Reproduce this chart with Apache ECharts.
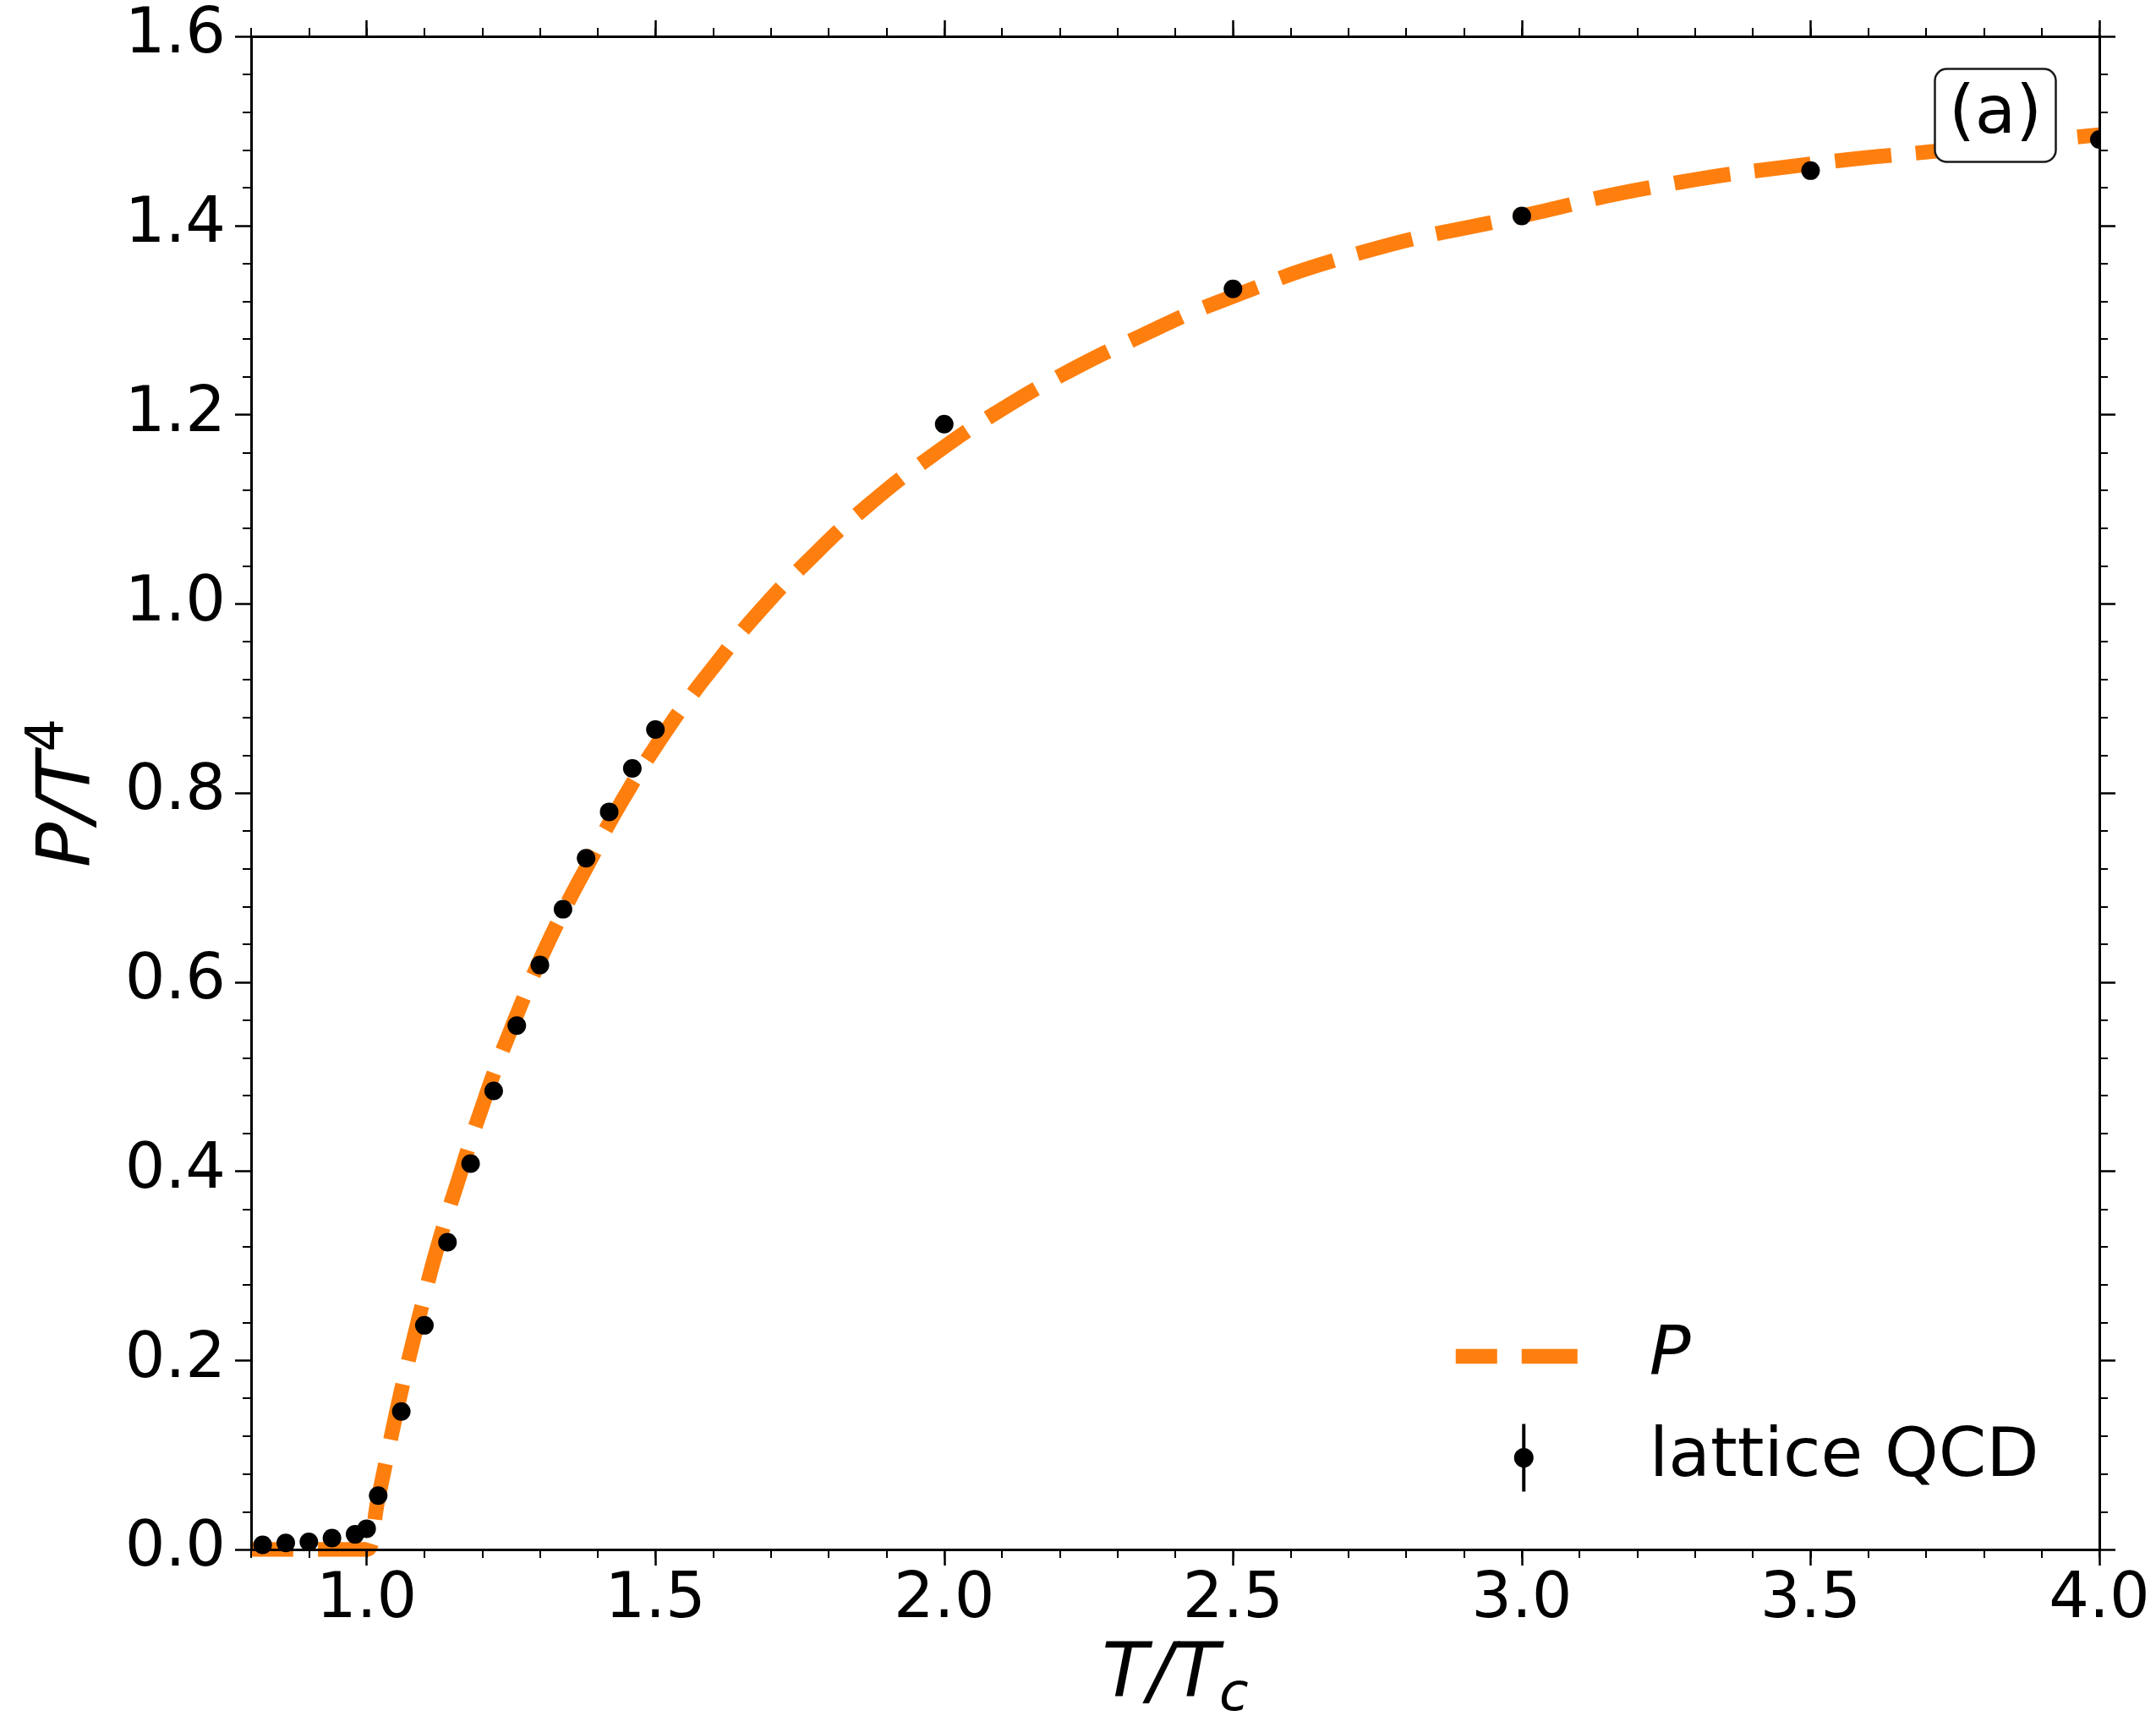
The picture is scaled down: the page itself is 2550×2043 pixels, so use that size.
<!DOCTYPE html>
<html>
<head>
<meta charset="utf-8">
<script src="https://cdn.jsdelivr.net/npm/echarts@6/dist/echarts.min.js"></script>
<style>
  html, body { margin: 0; padding: 0; background: #ffffff; }
  #chart { width: 2550px; height: 2043px; }
</style>
</head>
<body>
<div id="chart"></div>
<script>
// Lattice QCD pressure, P/T^4 versus T/Tc
const latticeT = [0.82, 0.86, 0.90, 0.94, 0.98, 1.00, 1.02, 1.06, 1.10, 1.14, 1.18, 1.22,
                  1.26, 1.30, 1.34, 1.38, 1.42, 1.46, 1.50, 2.00, 2.50, 3.00, 3.50, 4.00];
const latticeP = [0.005, 0.007, 0.008, 0.012, 0.016, 0.022, 0.057, 0.146, 0.237, 0.325, 0.408, 0.485,
                  0.554, 0.618, 0.677, 0.731, 0.780, 0.826, 0.867, 1.190, 1.333, 1.410, 1.458, 1.491];

// Model pressure curve P/T^4
const curveT = [0.80, 0.90, 0.99, 1.00, 1.02, 1.04, 1.06, 1.08, 1.10, 1.12, 1.14, 1.16, 1.18, 1.20,
                1.22, 1.25, 1.28, 1.30, 1.33, 1.36, 1.39, 1.41, 1.46, 1.48, 1.53, 1.56, 1.59, 1.67,
                1.77, 1.87, 1.98, 2.09, 2.21, 2.34, 2.47, 2.72, 3.00, 3.23, 3.50, 3.74, 4.00];
const curveP = [0.000, 0.000, 0.000, 0.000, 0.054, 0.112, 0.168, 0.219, 0.268, 0.314, 0.355, 0.393,
                0.432, 0.468, 0.503, 0.550, 0.595, 0.623, 0.662, 0.698, 0.732, 0.757, 0.810, 0.830,
                0.876, 0.901, 0.925, 0.985, 1.049, 1.105, 1.157, 1.202, 1.244, 1.283, 1.318, 1.371,
                1.410, 1.441, 1.465, 1.480, 1.496];

// Axis ticks
const xMajorTicks = [1.0, 1.5, 2.0, 2.5, 3.0, 3.5, 4.0];
const xRange = [0.8, 4.0];
const yRange = [0.0, 1.6];

const FONT = 'DejaVu Sans';
const GRID = { left: 297, top: 43, width: 2186, height: 1798 };
const ORANGE = '#ff7f0e';

const fmt1 = v => Number(v).toFixed(1);

function xAxisPair(position, withLabels) {
  const minor = {
    type: 'value', position: position, min: xRange[0], max: xRange[1], interval: 0.1, z: 10,
    axisLine: { show: true, onZero: false, lineStyle: { color: '#000', width: 3 } },
    axisTick: { show: true, inside: false, length: 10, lineStyle: { color: '#000', width: 2 } },
    axisLabel: { show: false },
    splitLine: { show: false }
  };
  if (withLabels) {
    minor.axisLabel = {
      show: true, customValues: xMajorTicks, formatter: fmt1, margin: 23,
      fontSize: 75, fontFamily: FONT, color: '#000'
    };
    minor.name = '{i|T/T}{s|c}';
    minor.nameLocation = 'middle';
    minor.nameGap = 106;
    minor.nameMoveOverlap = false;
    minor.nameTextStyle = {
      rich: {
        i: { fontFamily: FONT, fontStyle: 'italic', fontSize: 89, lineHeight: 89, color: '#000' },
        s: { fontFamily: FONT, fontStyle: 'italic', fontSize: 63, lineHeight: 63, padding: [46, 0, 0, 0], color: '#000' }
      }
    };
  }
  const major = {
    type: 'value', position: position, min: xRange[0], max: xRange[1], interval: 0.1, z: 10,
    axisLine: { show: false, onZero: false },
    axisTick: { show: true, inside: false, customValues: xMajorTicks, length: 19, lineStyle: { color: '#000', width: 2.5 } },
    axisLabel: { show: false },
    splitLine: { show: false }
  };
  return [minor, major];
}

function yAxisSide(position, withLabels) {
  const ax = {
    type: 'value', position: position, min: yRange[0], max: yRange[1], interval: 0.2, z: 10,
    axisLine: { show: true, onZero: false, lineStyle: { color: '#000', width: 3 } },
    axisTick: { show: true, inside: false, length: 19, lineStyle: { color: '#000', width: 2.5 } },
    minorTick: { show: true, splitNumber: 5, length: 10, lineStyle: { color: '#000', width: 2 } },
    axisLabel: { show: false },
    splitLine: { show: false },
    minorSplitLine: { show: false }
  };
  if (withLabels) {
    ax.axisLabel = { show: true, formatter: fmt1, margin: 30, fontSize: 75, fontFamily: FONT, color: '#000' };
    ax.name = '{i|P/T}{s|4}';
    ax.nameLocation = 'middle';
    ax.nameRotate = 90;
    ax.nameGap = 170;
    ax.nameMoveOverlap = false;
    ax.nameTextStyle = {
      rich: {
        i: { fontFamily: FONT, fontStyle: 'italic', fontSize: 88, lineHeight: 88, color: '#000' },
        s: { fontFamily: FONT, fontSize: 62, lineHeight: 62, padding: [0, 0, 48, 0], color: '#000' }
      }
    };
  }
  return ax;
}

const chart = echarts.init(document.getElementById('chart'), null, { renderer: 'canvas' });

chart.setOption({
  animation: false,
  backgroundColor: '#ffffff',
  grid: { left: GRID.left, top: GRID.top, width: GRID.width, height: GRID.height, containLabel: false },
  xAxis: [...xAxisPair('bottom', true), ...xAxisPair('top', false)],
  yAxis: [yAxisSide('left', true), yAxisSide('right', false)],
  title: {
    text: '(a)', left: 2288, top: 81, padding: [16, 17], z: 8,
    backgroundColor: '#ffffff', borderColor: '#1a1a1a', borderWidth: 2.5, borderRadius: 14,
    textStyle: { fontFamily: FONT, fontSize: 79, fontWeight: 'normal', color: '#000', lineHeight: 79 }
  },
  legend: {
    orient: 'vertical', left: 1713, top: 1564, padding: 0, itemGap: 39,
    itemWidth: 161, itemHeight: 80, selectedMode: false,
    textStyle: { fontFamily: FONT, fontSize: 81, color: '#000', lineHeight: 80, padding: [0, 0, 0, 63] },
    data: [
      { name: 'P', textStyle: { fontStyle: 'italic' },
        itemStyle: { color: 'rgba(0,0,0,0)', opacity: 0, borderWidth: 0 },
        lineStyle: { color: ORANGE, width: 17.5, type: [66, 29], cap: 'butt', opacity: 1 } },
      { name: 'lattice QCD',
        icon: 'path://M10 0h4v80h-4z M12 28.5a11.5 11.5 0 1 1 0 23a11.5 11.5 0 1 1 0 -23z',
        itemStyle: { color: '#000', borderWidth: 0, opacity: 1 } }
    ]
  },
  // white bands just outside the plot frame so marks end at the axes
  graphic: {
    elements: [
      { type: 'rect', z: 5, silent: true,
        shape: { x: GRID.left - 40, y: GRID.top + GRID.height + 1.5, width: GRID.width + 80, height: 14 },
        style: { fill: '#ffffff' } },
      { type: 'rect', z: 5, silent: true,
        shape: { x: GRID.left + GRID.width + 1.5, y: GRID.top - 20, width: 14, height: GRID.height + 40 },
        style: { fill: '#ffffff' } }
    ]
  },
  series: [
    {
      type: 'line', name: 'P', xAxisIndex: 0, yAxisIndex: 0, z: 2,
      data: curveT.map((t, i) => [t, curveP[i]]),
      symbol: 'none', showSymbol: false,
      smooth: 0.5,
      lineStyle: { color: ORANGE, width: 17.5, type: [67, 29], dashOffset: 17, cap: 'butt', join: 'round' },
      itemStyle: { color: ORANGE }
    },
    {
      type: 'scatter', name: 'lattice QCD', xAxisIndex: 0, yAxisIndex: 0, z: 3,
      data: latticeT.map((t, i) => [t, latticeP[i]]),
      symbol: 'circle', symbolSize: 22,
      itemStyle: { color: '#000', opacity: 1 }
    }
  ]
});
</script>
</body>
</html>
